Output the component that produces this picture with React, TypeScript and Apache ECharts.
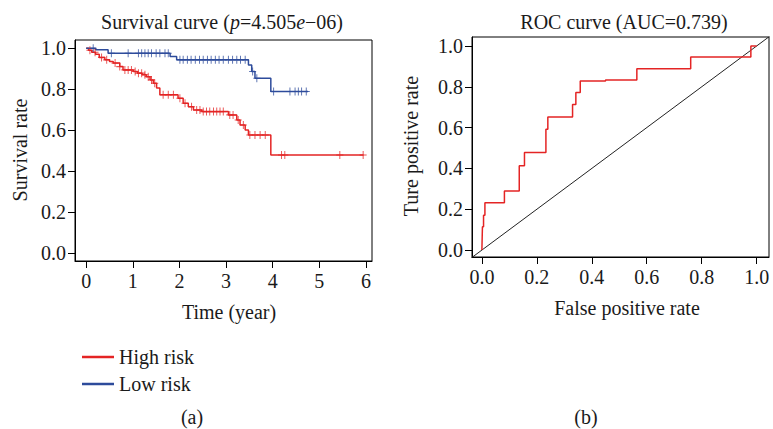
import React, { useEffect, useRef } from "react";
import * as echarts from "echarts";

// Kaplan–Meier step data (time in years, survival rate after event)
const highRiskTimes = [0, 0.05, 0.12, 0.2, 0.28, 0.4, 0.5, 0.58, 0.72, 0.79, 1.01, 1.1, 1.2, 1.29, 1.37, 1.44, 1.51, 1.58, 1.97, 2.08, 2.19, 2.3, 2.48, 3.05, 3.23, 3.3, 3.41, 3.48, 3.96, 5.95];
const highRiskSurv = [1.0, 0.99, 0.98, 0.97, 0.955, 0.943, 0.935, 0.927, 0.91, 0.894, 0.886, 0.878, 0.87, 0.861, 0.845, 0.829, 0.805, 0.772, 0.755, 0.731, 0.714, 0.698, 0.69, 0.674, 0.649, 0.625, 0.6, 0.576, 0.478, 0.478];
const highRiskCensored = [0.08, 0.19, 0.33, 0.44, 0.62, 0.72, 0.83, 0.9, 0.97, 1.05, 1.12, 1.19, 1.26, 1.33, 1.4, 1.47, 1.65, 1.76, 1.87, 2.01, 2.12, 2.26, 2.37, 2.44, 2.51, 2.58, 2.65, 2.73, 2.8, 2.87, 2.94, 3.08, 3.15, 3.26, 3.37, 3.51, 3.62, 3.73, 3.84, 4.19, 4.26, 5.44, 5.94];

const lowRiskTimes = [0, 0.2, 0.47, 1.8, 1.94, 3.48, 3.55, 3.62, 3.96, 4.76];
const lowRiskSurv = [1.0, 0.992, 0.975, 0.959, 0.943, 0.918, 0.886, 0.853, 0.788, 0.788];
const lowRiskCensored = [0.15, 0.54, 0.9, 1.12, 1.19, 1.26, 1.33, 1.4, 1.5, 1.58, 1.69, 1.76, 2.01, 2.08, 2.17, 2.25, 2.34, 2.43, 2.51, 2.6, 2.68, 2.77, 2.85, 2.94, 3.05, 3.14, 3.23, 3.31, 3.41, 3.57, 3.66, 4.02, 4.37, 4.48, 4.55, 4.62, 4.72];

// ROC curve points
const rocFpr = [0, 0.002, 0.006, 0.011, 0.082, 0.136, 0.155, 0.233, 0.24, 0.33, 0.342, 0.358, 0.45, 0.564, 0.76, 0.979, 1.0];
const rocTpr = [0, 0.114, 0.171, 0.232, 0.289, 0.413, 0.478, 0.592, 0.652, 0.713, 0.772, 0.829, 0.833, 0.889, 0.946, 1.0, 1.0];

const timeTicks = [0, 1, 2, 3, 4, 5, 6];
const rateTicks = [0, 0.2, 0.4, 0.6, 0.8, 1.0];

const RED = "#e42424";
const BLUE = "#2d4b9b";
const TEXT = "#1a1a1a";
const FONT = '"Liberation Serif", "Times New Roman", serif';
const FS = 20;

function stepValue(times: number[], surv: number[], t: number) {
  let v = surv[0];
  for (let i = 0; i < times.length; i++) {
    if (times[i] <= t) v = surv[i];
  }
  return v;
}

export default function App() {
  const ref = useRef<HTMLDivElement>(null);
  useEffect(() => {
    if (!ref.current) return;
    const chart = echarts.init(ref.current, null, { renderer: "svg" });
    const plus = "path://M4,0L4,8M0,4L8,4";
    const axisCommon = {
      type: "value" as const,
      splitLine: { show: false },
      axisLine: { show: true, onZero: false, lineStyle: { color: "#000", width: 1 } },
      axisTick: { show: true, inside: false, length: 7, lineStyle: { color: "#000", width: 1 } },
    };
    const labelStyle = { color: TEXT, fontFamily: FONT, fontSize: FS };
    const t = (text: string, x: number, y: number, rot = 0) => ({
      type: "text",
      x,
      y,
      rotation: rot,
      style: { text, fill: TEXT, font: `${FS}px ${FONT}`, fontFamily: FONT, fontSize: FS, align: "center", verticalAlign: "middle" },
    });
    chart.setOption({
      animation: false,
      backgroundColor: "#fff",
      grid: [
        { left: 75, top: 40, width: 297, height: 221, show: true, borderColor: "#000", borderWidth: 1 },
        { left: 472, top: 37, width: 297, height: 220, show: true, borderColor: "#000", borderWidth: 1 },
      ],
      xAxis: [
        {
          ...axisCommon,
          gridIndex: 0,
          min: -0.24,
          max: 6.13,
          axisTick: { ...axisCommon.axisTick, customValues: timeTicks },
          axisLabel: { ...labelStyle, margin: 10, customValues: timeTicks, formatter: (v: number) => String(v) },
        },
        {
          ...axisCommon,
          gridIndex: 1,
          min: -0.036,
          max: 1.045,
          axisTick: { ...axisCommon.axisTick, customValues: rateTicks },
          axisLabel: { ...labelStyle, margin: 10, customValues: rateTicks, formatter: (v: number) => v.toFixed(1) },
        },
      ],
      yAxis: [
        {
          ...axisCommon,
          gridIndex: 0,
          min: -0.04,
          max: 1.04,
          axisTick: { ...axisCommon.axisTick, customValues: rateTicks },
          axisLabel: { ...labelStyle, margin: 9, customValues: rateTicks, formatter: (v: number) => v.toFixed(1) },
        },
        {
          ...axisCommon,
          gridIndex: 1,
          min: -0.034,
          max: 1.044,
          axisTick: { ...axisCommon.axisTick, customValues: rateTicks },
          axisLabel: { ...labelStyle, margin: 9, customValues: rateTicks, formatter: (v: number) => v.toFixed(1) },
        },
      ],
      legend: {
        data: ["High risk", "Low risk"],
        orient: "vertical",
        left: 77,
        top: 342,
        icon: "rect",
        itemWidth: 32,
        itemHeight: 2.5,
        itemGap: 7,
        textStyle: { color: TEXT, fontFamily: FONT, fontSize: FS, padding: [0, 0, 0, 0] },
      },
      series: [
        {
          name: "High risk",
          type: "line",
          xAxisIndex: 0,
          yAxisIndex: 0,
          step: "end",
          showSymbol: false,
          color: RED,
          lineStyle: { color: RED, width: 1.5 },
          data: highRiskTimes.map((x, i) => [x, highRiskSurv[i]]),
        },
        {
          name: "Low risk",
          type: "line",
          xAxisIndex: 0,
          yAxisIndex: 0,
          step: "end",
          showSymbol: false,
          color: BLUE,
          lineStyle: { color: BLUE, width: 1.5 },
          data: lowRiskTimes.map((x, i) => [x, lowRiskSurv[i]]),
        },
        {
          name: "High risk censored",
          type: "scatter",
          xAxisIndex: 0,
          yAxisIndex: 0,
          symbol: plus,
          symbolSize: [7, 8],
          itemStyle: { color: "transparent", borderColor: RED, borderWidth: 1 },
          data: highRiskCensored.map((x) => [x, stepValue(highRiskTimes, highRiskSurv, x)]),
          z: 3,
        },
        {
          name: "Low risk censored",
          type: "scatter",
          xAxisIndex: 0,
          yAxisIndex: 0,
          symbol: plus,
          symbolSize: [7, 8],
          itemStyle: { color: "transparent", borderColor: BLUE, borderWidth: 1 },
          data: lowRiskCensored.map((x) => [x, stepValue(lowRiskTimes, lowRiskSurv, x)]),
          z: 3,
        },
        {
          name: "Reference",
          type: "line",
          xAxisIndex: 1,
          yAxisIndex: 1,
          showSymbol: false,
          clip: true,
          lineStyle: { color: "#222", width: 1 },
          data: [[-0.05, -0.05], [1.05, 1.05]],
        },
        {
          name: "ROC",
          type: "line",
          xAxisIndex: 1,
          yAxisIndex: 1,
          step: "end",
          showSymbol: false,
          lineStyle: { color: RED, width: 1.5 },
          data: rocFpr.map((x, i) => [x, rocTpr[i]]),
        },
      ],
      graphic: [
        {
          type: "text",
          x: 222,
          y: 22,
          style: {
            text: "{n|Survival curve (}{i|p}{n|=4.505}{i|e}{n|−06)}",
            rich: {
              n: { fontFamily: FONT, fontSize: FS, fill: TEXT, color: TEXT },
              i: { fontFamily: FONT, fontSize: FS, fontStyle: "italic", fill: TEXT, color: TEXT },
            },
            align: "center",
            verticalAlign: "middle",
          },
        },
        t("ROC curve (AUC=0.739)", 624, 22),
        t("Survival rate", 20, 150, Math.PI / 2),
        t("Time (year)", 229, 312),
        t("Ture positive rate", 411, 146, Math.PI / 2),
        t("False positive rate", 627, 308),
        t("(a)", 192, 417),
        t("(b)", 586, 417),
      ],
    });
    return () => chart.dispose();
  }, []);
  return <div ref={ref} style={{ position: "fixed", left: 0, top: 0, width: 773, height: 429 }} />;
}
